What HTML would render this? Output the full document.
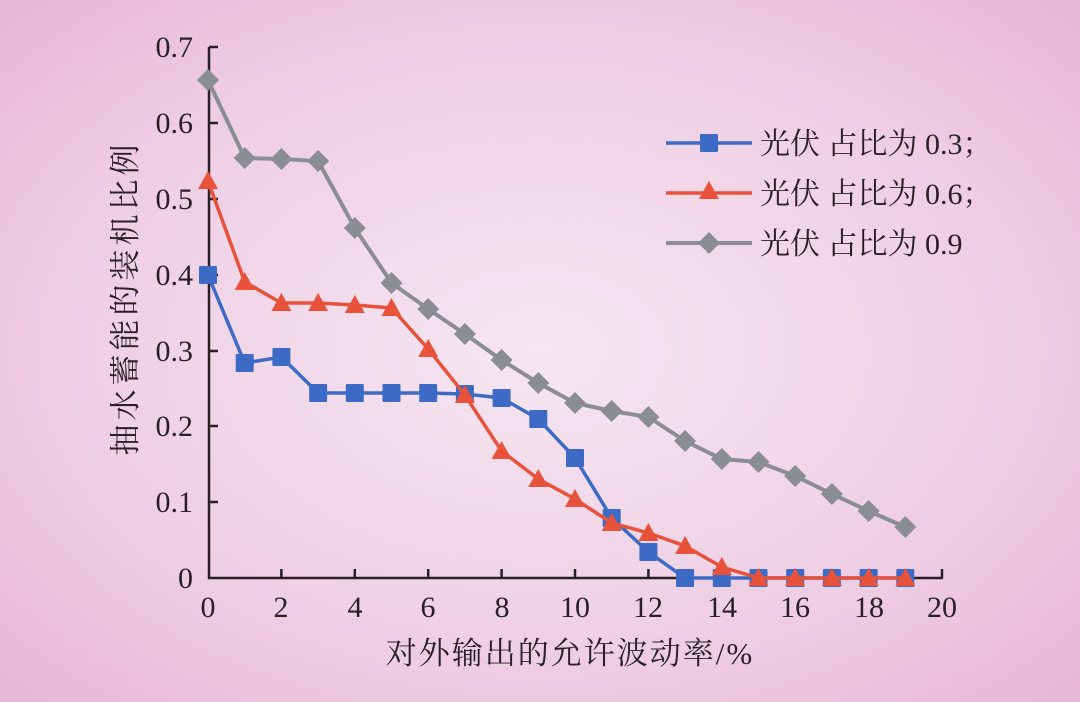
<!DOCTYPE html><html><head><meta charset="utf-8"><style>
body{margin:0}
svg{display:block}
text{font-family:"Liberation Serif","Noto Serif CJK SC",serif;fill:#2a1f24}
</style></head><body>
<svg width="1080" height="702" viewBox="0 0 1080 702" xmlns="http://www.w3.org/2000/svg">
<defs>
<radialGradient id="bg" cx="0.5" cy="0.5" r="0.75">
<stop offset="0" stop-color="#f6e6f1"/><stop offset="0.6" stop-color="#eecde3"/><stop offset="1" stop-color="#e5b3d5"/>
</radialGradient>
<rect id="sq" x="-9" y="-9" width="18" height="18" rx="1" fill="#3d6ac4"/>
<polygon id="tr" points="0,-10 10,8 -10,8" fill="#e8523a"/>
<polygon id="dm" points="0,-11 11,0 0,11 -11,0" fill="#8a8e92"/>
</defs>
<rect width="1080" height="702" fill="url(#bg)"/>
<g stroke="#2a1f24" stroke-width="2.5" fill="none">
<path d="M209,47 V578 H943"/>
<path d="M209,47h9 M209,123h9 M209,199h9 M209,275h9 M209,351h9 M209,426h9 M209,502h9"/>
<path d="M281.4,578v-9 M354.8,578v-9 M428.2,578v-9 M501.6,578v-9 M575,578v-9 M648.4,578v-9 M721.8,578v-9 M795.2,578v-9 M868.6,578v-9 M942,578v-9"/>
</g>
<g font-size="30" text-anchor="end">
<text x="193" y="57">0.7</text><text x="193" y="133">0.6</text><text x="193" y="209">0.5</text><text x="193" y="285">0.4</text><text x="193" y="361">0.3</text><text x="193" y="436">0.2</text><text x="193" y="512">0.1</text><text x="193" y="588">0</text>
</g>
<g font-size="30" text-anchor="middle">
<text x="208" y="617">0</text><text x="281" y="617">2</text><text x="355" y="617">4</text><text x="428" y="617">6</text><text x="502" y="617">8</text><text x="575" y="617">10</text><text x="648" y="617">12</text><text x="722" y="617">14</text><text x="795" y="617">16</text><text x="869" y="617">18</text><text x="942" y="617">20</text>
</g>
<text x="570" y="664" font-size="31" letter-spacing="2" text-anchor="middle">对外输出的允许波动率/%</text>
<text transform="translate(136,298) rotate(-90)" font-size="31" letter-spacing="4" text-anchor="middle">抽水蓄能的装机比例</text>

<polyline fill="none" stroke="#8a8e92" stroke-width="4" points="208,80 244.7,158 281.4,159 318.1,161 354.8,228 391.5,283 428.2,309 464.9,334 501.6,360 538.3,383 575,403 611.7,411 648.4,417 685.1,441 721.8,459 758.5,462 795.2,476 831.9,494 868.6,511 905.3,527"/>
<g><use href="#dm" x="208" y="80"/><use href="#dm" x="244.7" y="158"/><use href="#dm" x="281.4" y="159"/><use href="#dm" x="318.1" y="161"/><use href="#dm" x="354.8" y="228"/><use href="#dm" x="391.5" y="283"/><use href="#dm" x="428.2" y="309"/><use href="#dm" x="464.9" y="334"/><use href="#dm" x="501.6" y="360"/><use href="#dm" x="538.3" y="383"/><use href="#dm" x="575" y="403"/><use href="#dm" x="611.7" y="411"/><use href="#dm" x="648.4" y="417"/><use href="#dm" x="685.1" y="441"/><use href="#dm" x="721.8" y="459"/><use href="#dm" x="758.5" y="462"/><use href="#dm" x="795.2" y="476"/><use href="#dm" x="831.9" y="494"/><use href="#dm" x="868.6" y="511"/><use href="#dm" x="905.3" y="527"/></g>

<polyline fill="none" stroke="#3d6ac4" stroke-width="3.5" points="208,275 244.7,363 281.4,357 318.1,393 354.8,393 391.5,393 428.2,393 464.9,394 501.6,398 538.3,419 575,458 611.7,518 648.4,552 685.1,578 721.8,578 758.5,578 795.2,578 831.9,578 868.6,578 905.3,578"/>
<g><use href="#sq" x="208" y="275"/><use href="#sq" x="244.7" y="363"/><use href="#sq" x="281.4" y="357"/><use href="#sq" x="318.1" y="393"/><use href="#sq" x="354.8" y="393"/><use href="#sq" x="391.5" y="393"/><use href="#sq" x="428.2" y="393"/><use href="#sq" x="464.9" y="394"/><use href="#sq" x="501.6" y="398"/><use href="#sq" x="538.3" y="419"/><use href="#sq" x="575" y="458"/><use href="#sq" x="611.7" y="518"/><use href="#sq" x="648.4" y="552"/><use href="#sq" x="685.1" y="578"/><use href="#sq" x="721.8" y="578"/><use href="#sq" x="758.5" y="578"/><use href="#sq" x="795.2" y="578"/><use href="#sq" x="831.9" y="578"/><use href="#sq" x="868.6" y="578"/><use href="#sq" x="905.3" y="578"/></g>

<polyline fill="none" stroke="#e8523a" stroke-width="3.5" points="208,181 244.7,282 281.4,303 318.1,303 354.8,305 391.5,308 428.2,349 464.9,395 501.6,451 538.3,479 575,499 611.7,523 648.4,533 685.1,546 721.8,567 758.5,578 795.2,578 831.9,578 868.6,578 905.3,578"/>
<g><use href="#tr" x="208" y="181"/><use href="#tr" x="244.7" y="282"/><use href="#tr" x="281.4" y="303"/><use href="#tr" x="318.1" y="303"/><use href="#tr" x="354.8" y="305"/><use href="#tr" x="391.5" y="308"/><use href="#tr" x="428.2" y="349"/><use href="#tr" x="464.9" y="395"/><use href="#tr" x="501.6" y="451"/><use href="#tr" x="538.3" y="479"/><use href="#tr" x="575" y="499"/><use href="#tr" x="611.7" y="523"/><use href="#tr" x="648.4" y="533"/><use href="#tr" x="685.1" y="546"/><use href="#tr" x="721.8" y="567"/><use href="#tr" x="758.5" y="578"/><use href="#tr" x="795.2" y="578"/><use href="#tr" x="831.9" y="578"/><use href="#tr" x="868.6" y="578"/><use href="#tr" x="905.3" y="578"/></g>

<line x1="666" y1="143" x2="752" y2="143" stroke="#3d6ac4" stroke-width="3.5"/><use href="#sq" x="709" y="143"/>
<line x1="666" y1="193" x2="752" y2="193" stroke="#e8523a" stroke-width="3.5"/><use href="#tr" x="709" y="191"/>
<line x1="666" y1="243" x2="752" y2="243" stroke="#8a8e92" stroke-width="4"/><use href="#dm" x="709" y="243"/>
<g font-size="30"><text x="760" y="154">光伏 占比为 0.3；</text><text x="760" y="204">光伏 占比为 0.6；</text><text x="760" y="254">光伏 占比为 0.9</text></g>
</svg>
</body></html>
